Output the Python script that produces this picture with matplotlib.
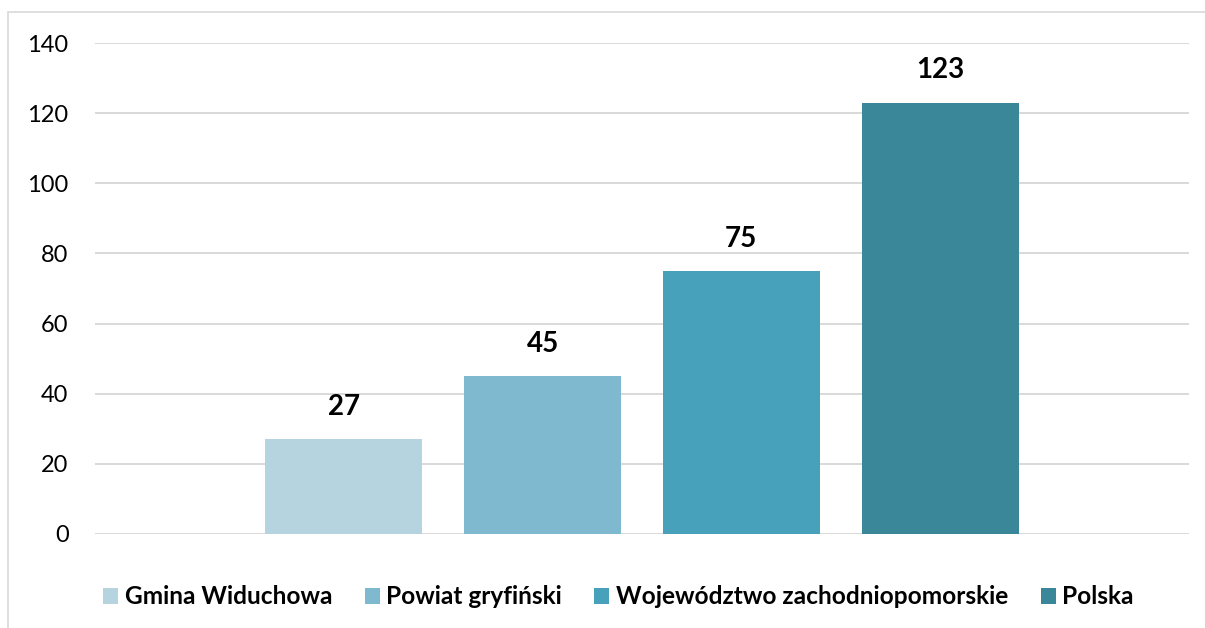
import matplotlib
matplotlib.use("Agg")
import matplotlib.pyplot as plt
from matplotlib.patches import Rectangle, Patch

# ---- data ----
series = ["Gmina Widuchowa", "Powiat gryfiński", "Województwo zachodniopomorskie", "Polska"]
values = [27, 45, 75, 123]
colors = ["#B5D4DF", "#7FB9CF", "#48A1BA", "#3A8799"]
yticks = [0, 20, 40, 60, 80, 100, 120, 140]

W, H = 1205, 628
fig = plt.figure(figsize=(W / 100, H / 100), dpi=100)
plt.rcParams['font.family'] = ['Lato', 'DejaVu Sans']

# chart-area border
fig.patches.append(Rectangle((8 / W, -0.05), 1.2, 1 - 12 / H + 0.05, transform=fig.transFigure,
                             fill=False, edgecolor="#D9D9D9", linewidth=1.2, zorder=0))

ax = fig.add_axes([95 / W, 1 - 534 / H, (1189 - 95) / W, (534 - 43) / H])
ax.set_xlim(-0.5, 0.5)
ax.set_ylim(0, 140)

step = 0.1816
width = 0.1435
n = len(values)
for i, (s, v, c) in enumerate(zip(series, values, colors)):
    x = (i - (n - 1) / 2) * step
    ax.bar(x, v, width=width, color=c, label=s, zorder=2)
    ax.annotate(str(v), (x, v), xytext=(0, 14), textcoords="offset points",
                ha="center", va="bottom", fontsize=20, fontweight="bold", color="#000000")

ax.set_yticks(yticks)
ax.set_yticklabels([str(t) for t in yticks])
ax.yaxis.grid(True, color="#D9D9D9", linewidth=1.4)
ax.set_axisbelow(True)
ax.tick_params(axis="y", length=0, pad=19, labelsize=17, labelcolor="#000000")
ax.set_xticks([])
for sp in ax.spines.values():
    sp.set_visible(False)

F = 17.6
px = F * 100 / 72
handles = [Patch(facecolor=c, edgecolor="none", label=s) for s, c in zip(series, colors)]
leg = fig.legend(handles=handles, loc="center", bbox_to_anchor=(618.5 / W, 1 - 597 / H), ncol=4,
                 frameon=False, handlelength=15 / px, handleheight=15 / px,
                 handletextpad=7 / px, columnspacing=32 / px, borderpad=0,
                 prop={"family": "Lato", "weight": "bold", "size": F})

fig.savefig("out.png", dpi=100)
